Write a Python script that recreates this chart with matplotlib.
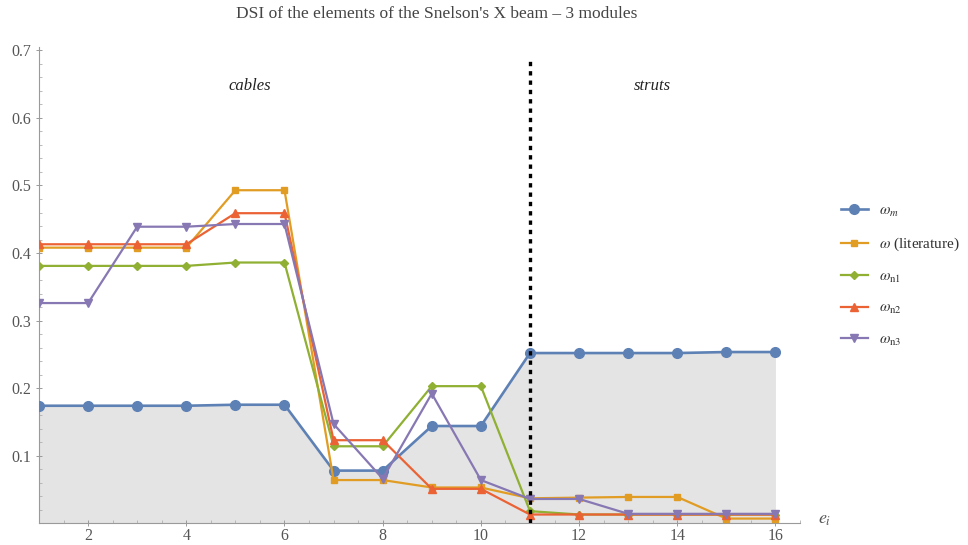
import matplotlib
matplotlib.use("Agg")
import matplotlib.pyplot as plt
from matplotlib.ticker import MultipleLocator, FixedLocator

plt.rcParams['font.family'] = ['Liberation Serif', 'DejaVu Serif']
plt.rcParams['mathtext.fontset'] = 'stix'

# ---- data ----
elements = list(range(1, 17))
omega_m = [0.174, 0.174, 0.174, 0.174, 0.1755, 0.1755, 0.078, 0.078,
           0.144, 0.144, 0.252, 0.252, 0.252, 0.252, 0.2535, 0.2535]
omega_lit = [0.408, 0.408, 0.408, 0.408, 0.493, 0.493, 0.064, 0.064,
             0.053, 0.053, 0.037, 0.038, 0.039, 0.039, 0.007, 0.007]
omega_n1 = [0.381, 0.381, 0.381, 0.381, 0.386, 0.386, 0.114, 0.114,
            0.203, 0.203, 0.018, 0.013, 0.013, 0.013, 0.013, 0.013]
omega_n2 = [0.413, 0.413, 0.413, 0.413, 0.459, 0.459, 0.123, 0.123,
            0.051, 0.051, 0.013, 0.013, 0.013, 0.013, 0.013, 0.013]
omega_n3 = [0.326, 0.326, 0.439, 0.439, 0.443, 0.443, 0.147, 0.066,
            0.192, 0.064, 0.036, 0.036, 0.014, 0.014, 0.014, 0.014]

series_labels = [r'$\omega_m$', r'$\omega$ (literature)', r'$\omega_{\rm n1}$',
                 r'$\omega_{\rm n2}$', r'$\omega_{\rm n3}$']
y_ticks = [0.1, 0.2, 0.3, 0.4, 0.5, 0.6, 0.7]
x_ticks = [2, 4, 6, 8, 10, 12, 14, 16]
divider = 11
region_labels = ['cables', 'struts']
title = "DSI of the elements of the Snelson's X beam \u2013 3 modules"

colors = ['#5E81B5', '#E19C24', '#8FB032', '#EB6235', '#8778B3']
markers = ['o', 's', 'D', '^', 'v']
msizes = [7, 5, 4.5, 6, 6]

fig = plt.figure(figsize=(9.68, 5.45), dpi=100)
ax = fig.add_axes([39/968, 1 - 523.3/545, (800 - 39)/968, (523.3 - 47.0)/545])

ax.fill_between(elements, 0, omega_m, color='#e4e4e4', lw=0, zorder=1)

all_series = [omega_m, omega_lit, omega_n1, omega_n2, omega_n3]
handles = []
for i, s in enumerate(all_series):
    h, = ax.plot(elements, s, color=colors[i], marker=markers[i], ms=msizes[i],
                 lw=1.6 if i else 1.9, mec=colors[i], label=series_labels[i], zorder=3 + i)
    handles.append(h)

ax.plot([divider, divider], [0, 0.69], color='black', lw=2.4,
        linestyle=(0, (1.3, 1.5)), zorder=10)

ax.text(5.3, 0.648, region_labels[0], fontstyle='italic', fontsize=12,
        ha='center', va='center', color='#222222')
ax.text(13.5, 0.648, region_labels[1], fontstyle='italic', fontsize=12,
        ha='center', va='center', color='#222222')

ax.set_xlim(1, 16.5)
ax.set_ylim(0, 0.705)
for sp in ['top', 'right']:
    ax.spines[sp].set_visible(False)
for sp in ['left', 'bottom']:
    ax.spines[sp].set_color('#9a9a9a')
    ax.spines[sp].set_linewidth(0.8)

ax.xaxis.set_major_locator(FixedLocator(x_ticks))
ax.xaxis.set_minor_locator(MultipleLocator(0.5))
ax.yaxis.set_major_locator(FixedLocator(y_ticks))
ax.yaxis.set_minor_locator(MultipleLocator(0.02))
ax.tick_params(which='major', direction='inout', length=5, width=0.7,
               color='#9a9a9a', labelsize=11.5, labelcolor='#555555')
ax.tick_params(which='minor', direction='in', length=2.5, width=0.6, color='#b0b0b0')
ax.tick_params(axis='x', pad=1)
ax.tick_params(axis='y', pad=3)
ax.set_yticklabels([f'{v:.1f}' for v in y_ticks])

fig.text(818/968, 1 - 519/545, r'$e_i$', fontsize=13, color='#555555',
         ha='left', va='center')
fig.text(437/968, 1 - 14/545, title, fontsize=12.5, color='#444444',
         ha='center', va='center')

fig.legend(handles=handles, labels=series_labels, loc='center left',
           bbox_to_anchor=(830/968, 1 - 276/545), frameon=False, fontsize=11,
           labelspacing=1.1, handlelength=1.8, handletextpad=0.7,
           borderpad=0.2, labelcolor='#333333')

fig.savefig('out.png', dpi=100)
